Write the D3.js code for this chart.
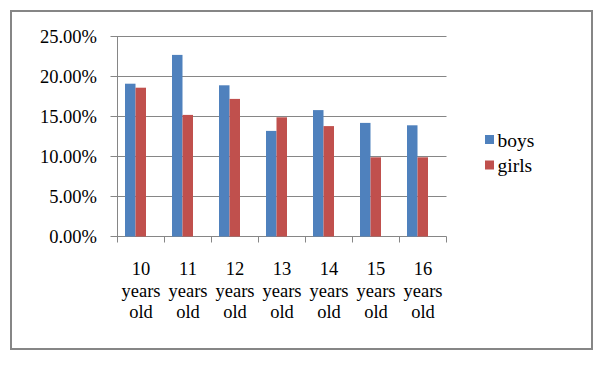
<!DOCTYPE html>
<html>
<head>
<meta charset="utf-8">
<script src="https://cdn.jsdelivr.net/npm/d3@7"></script>
<style>
  body { margin: 0; background: #fff; }
  svg { display: block; }
</style>
</head>
<body>
<script>
'use strict';

// data
const ages = ['10', '11', '12', '13', '14', '15', '16'];
const seriesNames = ['boys', 'girls'];
const boys = [19.1, 22.7, 18.9, 13.2, 15.8, 14.2, 13.9];
const girls = [18.6, 15.2, 17.2, 14.9, 13.8, 9.9, 9.9];
const yTicks = [0, 5, 10, 15, 20, 25];
const colors = ['#4F81BD', '#C0504D'];

const width = 603, height = 367;
const plot = {left: 117.5, right: 446.5, top: 36.5, bottom: 236.5};
const gridColor = '#868686';
const fontSize = 18.5;
const serif = "'Liberation Serif', 'Times New Roman', Times, serif";

let svg = d3.select('body').append('svg')
  .attr('width', width)
  .attr('height', height)
  .attr('font-family', serif);

// outer frame
svg.append('rect')
  .attr('x', 11).attr('y', 11)
  .attr('width', 581).attr('height', 338)
  .attr('fill', 'none')
  .attr('stroke', gridColor)
  .attr('stroke-width', 2);

let x = d3.scaleBand().domain(ages).range([plot.left, plot.right]).padding(0);
let xs = d3.scaleBand().domain(seriesNames).range([7.5, 28.5]).padding(0);
let y = d3.scaleLinear().domain([0, 25]).range([plot.bottom, plot.top]);

// grid lines (with outer tick on the left)
svg.append('g')
  .selectAll('line')
  .data(yTicks)
  .join('line')
  .attr('x1', plot.left - 7)
  .attr('x2', plot.right)
  .attr('y1', d => y(d))
  .attr('y2', d => y(d))
  .attr('stroke', gridColor)
  .attr('stroke-width', 1);

// y labels
svg.append('g')
  .selectAll('text')
  .data(yTicks)
  .join('text')
  .attr('x', 97)
  .attr('y', d => y(d) + 6.5)
  .attr('text-anchor', 'end')
  .attr('font-family', serif)
  .attr('font-size', fontSize)
  .text(d => d.toFixed(2) + '%');

// bars
let rows = ages.map((a, i) => ({age: a, values: [boys[i], girls[i]]}));
let groups = svg.append('g')
  .selectAll('g')
  .data(rows)
  .join('g')
  .attr('transform', d => `translate(${x(d.age)},0)`);

groups.selectAll('rect')
  .data(d => d.values.map((v, j) => ({name: seriesNames[j], v: v, c: colors[j]})))
  .join('rect')
  .attr('x', d => xs(d.name))
  .attr('width', xs.bandwidth())
  .attr('y', d => y(d.v))
  .attr('height', d => y(0) - y(d.v))
  .attr('fill', d => d.c);

// y axis line
svg.append('line')
  .attr('x1', plot.left).attr('x2', plot.left)
  .attr('y1', plot.top).attr('y2', plot.bottom)
  .attr('stroke', gridColor);

// x axis ticks at band edges
let edges = ages.map(a => x(a)).concat([plot.right]);
svg.append('g')
  .selectAll('line')
  .data(edges)
  .join('line')
  .attr('x1', d => d).attr('x2', d => d)
  .attr('y1', plot.bottom).attr('y2', plot.bottom + 6)
  .attr('stroke', gridColor);

// category labels
let labels = svg.append('g')
  .selectAll('text')
  .data(ages)
  .join('text')
  .attr('text-anchor', 'middle')
  .attr('font-family', serif)
  .attr('font-size', fontSize);
labels.each(function(d) {
  let cx = x(d) + x.bandwidth() / 2;
  let t = d3.select(this);
  [d, 'years', 'old'].forEach((s, k) => {
    t.append('tspan').attr('x', cx).attr('y', 275 + k * 21.6).text(s);
  });
});

// legend
let legend = svg.append('g')
  .selectAll('g')
  .data(seriesNames)
  .join('g')
  .attr('transform', (d, i) => `translate(485,${135 + i * 25.5})`);
legend.append('rect')
  .attr('width', 9).attr('height', 9)
  .attr('fill', (d, i) => colors[i]);
legend.append('text')
  .attr('x', 12.5)
  .attr('y', 11.5)
  .attr('font-family', serif)
  .attr('font-size', fontSize + 1)
  .text(d => d);
</script>
</body>
</html>
